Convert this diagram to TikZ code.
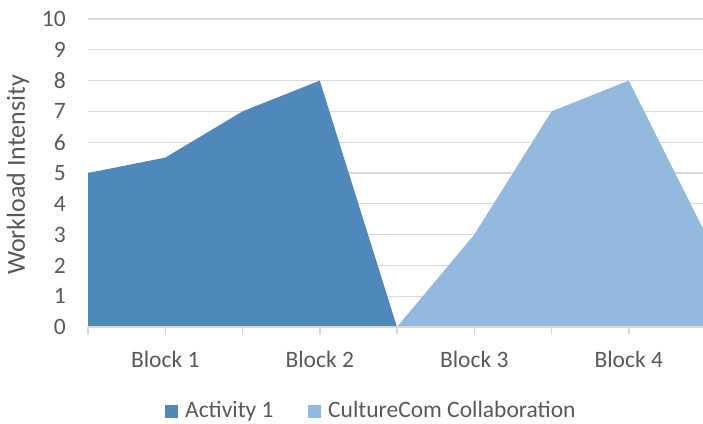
\documentclass[tikz,border=0pt]{standalone}
\usepackage{fontspec}
\setmainfont{Carlito}
\definecolor{actblue}{HTML}{4F88BB}
\definecolor{ccblue}{HTML}{95B8DE}
\definecolor{gridgrey}{HTML}{D9D9D9}
\definecolor{txtgrey}{HTML}{595959}
\tikzset{
  gridline/.style={draw=gridgrey, line width=1.3pt},
  axisline/.style={draw=gridgrey, line width=1.5pt},
  ticklab/.style={text=txtgrey, font=\fontsize{23.5}{28}\selectfont, inner sep=0pt},
  titlelab/.style={text=txtgrey, font=\fontsize{26}{31}\selectfont, inner sep=0pt},
  legbox/.style={minimum width=13pt, minimum height=13pt, inner sep=0pt, draw=none},
}
\begin{document}
\begin{tikzpicture}[x={(1pt,0pt)}, y={(0pt,-1pt)}]
\useasboundingbox (0,0) rectangle (703,423);
\begin{scope}[shift={(88,327)}, x={(77.25pt,0pt)}, y={(0pt,30.8pt)}]
  % gridlines
  \foreach \v in {1,...,10}
    \draw[gridline] (0,\v) -- (7.961,\v);
  % areas
  \fill[actblue] (0,0) -- (0,5) -- (1,5.5) -- (2,7) -- (3,8) -- (4,0) -- cycle;
  \begin{scope}
    \clip (0,-1) rectangle (7.961,11);
    \fill[ccblue] (4,0) -- (5,3) -- (6,7) -- (7,8) -- (8,3) -- (8,0) -- cycle;
  \end{scope}
  % axis
  \draw[axisline] (0,0) -- (7.961,0);
  \foreach \i in {0,...,7}
    \draw[axisline] (\i,0) -- ++(0pt,-7pt);
  % y labels
  \foreach \v in {0,...,10}
    \node[ticklab, anchor=east] (y\v) at ([xshift=-22pt]0,\v) {\v};
  % category labels
  \node[ticklab, anchor=base] (b1) at ([yshift=-40pt]1,0) {Block 1};
  \node[ticklab, anchor=base] (b2) at ([yshift=-40pt]3,0) {Block 2};
  \node[ticklab, anchor=base] (b3) at ([yshift=-40pt]5,0) {Block 3};
  \node[ticklab, anchor=base] (b4) at ([yshift=-40pt]7,0) {Block 4};
\end{scope}
% axis title
\node[titlelab, rotate=90] (ytitle) at (18,175) {Workload Intensity};
% legend
\node[legbox, fill=actblue, anchor=south west] (lk1) at (165,418) {};
\node[ticklab, anchor=base west] (lt1) at (185,417) {Activity 1};
\node[legbox, fill=ccblue, anchor=south west] (lk2) at (308,418) {};
\node[ticklab, anchor=base west] (lt2) at (328,417) {CultureCom Collaboration};
\end{tikzpicture}
\end{document}
